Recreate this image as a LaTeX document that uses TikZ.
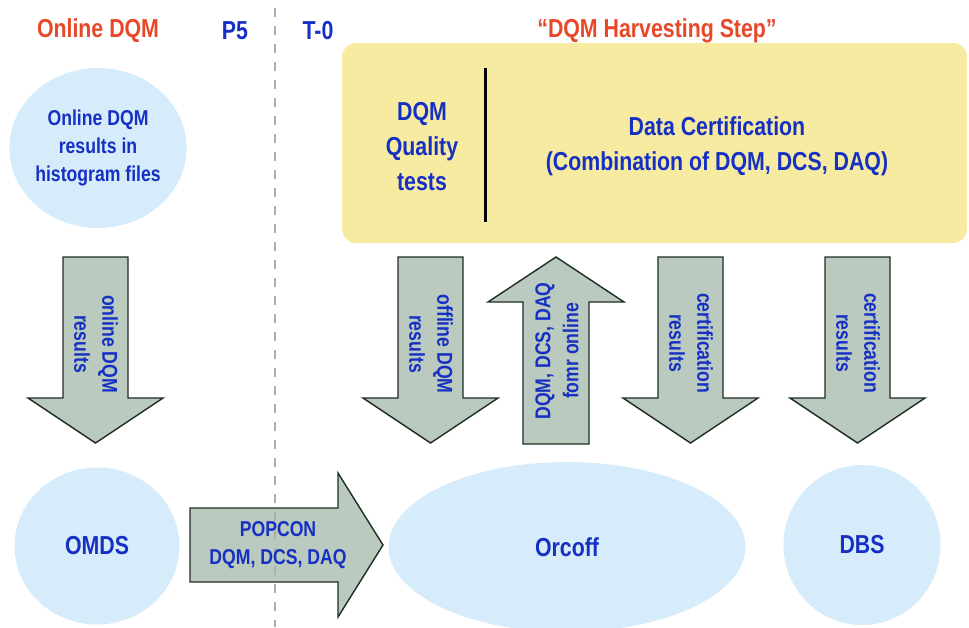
\documentclass[tikz,border=0pt]{standalone}
\usepackage{fontspec}
\setmainfont[FakeStretch=0.82]{Liberation Sans}
\usetikzlibrary{shapes.geometric}
\definecolor{dqmblue}{RGB}{22,48,196}
\definecolor{dqmred}{RGB}{232,72,42}
\definecolor{harvyellow}{RGB}{246,235,160}
\definecolor{dbblue}{RGB}{214,236,250}
\definecolor{arrowfill}{RGB}{186,202,190}
\definecolor{arrowline}{RGB}{30,45,35}
\definecolor{sepgray}{RGB}{170,176,176}
\newcommand{\bigtext}{\fontsize{26}{35}\selectfont\bfseries}
\newcommand{\smalltext}{\fontsize{21.5}{28}\selectfont\bfseries}
% block arrow: start point, angle, length, half width of the shaft
\newcommand{\blockarrow}[4]{%
  \begin{scope}[shift={#1},rotate=#2]
    \draw[fatarrow] (0,-#4) -- ({#3-45},-#4) -- ({#3-45},{-#4-35}) -- (#3,0)
      -- ({#3-45},{#4+35}) -- ({#3-45},#4) -- (0,#4) -- cycle;
  \end{scope}}

\begin{document}
\begin{tikzpicture}[x=1pt,y=-1pt,
    fatarrow/.style={fill=arrowfill,draw=arrowline,line width=1.4pt,line join=miter},
    db/.style={ellipse,fill=dbblue,inner sep=0pt,text=dqmblue,font=\bigtext},
    title/.style={inner sep=0pt,font=\bigtext},
    boxtext/.style={inner sep=0pt,align=center,text=dqmblue,font=\bigtext},
    arrowtext/.style={inner sep=0pt,align=center,text=dqmblue,font=\smalltext}]
  \useasboundingbox (0,0) rectangle (969,627);

  % harvesting step box
  \fill[harvyellow,rounded corners=14pt] (342,43) rectangle (967,243);
  \coordinate (bar top) at (485,68);
  \coordinate (bar bottom) at (485,222);
  \draw[black,line width=3pt] (bar top) -- (bar bottom);

  % data stores
  \begin{scope}[every node/.style={db}]
    \node[minimum width=167pt,minimum height=160pt,font=\smalltext,align=center] (hist) at (98,148)
      {Online DQM\\results in\\histogram files};
    \node[minimum width=165pt,minimum height=157pt] (omds) at (97,546) {OMDS};
    \node[minimum width=357pt,minimum height=170pt] (orcoff) at (567,547) {Orcoff};
    \node[minimum width=157pt,minimum height=160pt] (dbs) at (862,545) {DBS};
  \end{scope}

  % block arrows
  \blockarrow{(95.5,257)}{-90}{186}{32.5}
  \blockarrow{(430.5,257)}{-90}{186}{32.5}
  \blockarrow{(556,444)}{90}{187}{33}
  \blockarrow{(690.5,257)}{-90}{186}{32.5}
  \blockarrow{(857.5,257)}{-90}{186}{32.5}
  \blockarrow{(190,545)}{0}{193}{37}

  % P5 / T-0 border
  \coordinate (sep top) at (275,8);
  \coordinate (sep bottom) at (275,627);
  \draw[sepgray,line width=2.2pt,dash pattern=on 9pt off 9pt] (sep top) -- (sep bottom);

  % labels
  \node[title,text=dqmred] (onl) at (98,31) {Online DQM};
  \node[title,text=dqmblue] (p5) at (235,31) {P5};
  \node[title,text=dqmblue] (t0) at (318,31) {T-0};
  \node[title,text=dqmred] (harv) at (657,31) {“DQM Harvesting Step”};

  \node[boxtext] (qtests) at (422,147) {DQM\\Quality\\tests};
  \node[boxtext] (cert) at (717,146) {Data Certification\\(Combination of DQM, DCS, DAQ)};

  \node[arrowtext,rotate=-90] (onres) at (96,344) {online DQM\\results};
  \node[arrowtext,rotate=-90] (offres) at (431,344) {offline DQM\\results};
  \node[arrowtext,rotate=90] (fromonl) at (557,351) {DQM, DCS, DAQ\\fomr online};
  \node[arrowtext,rotate=-90] (certres) at (691,343) {certification\\results};
  \node[arrowtext,rotate=-90] (dbsres) at (858,343) {certification\\results};
  \node[arrowtext] (popcon) at (278,545) {POPCON\\DQM, DCS, DAQ};
\end{tikzpicture}
\end{document}
